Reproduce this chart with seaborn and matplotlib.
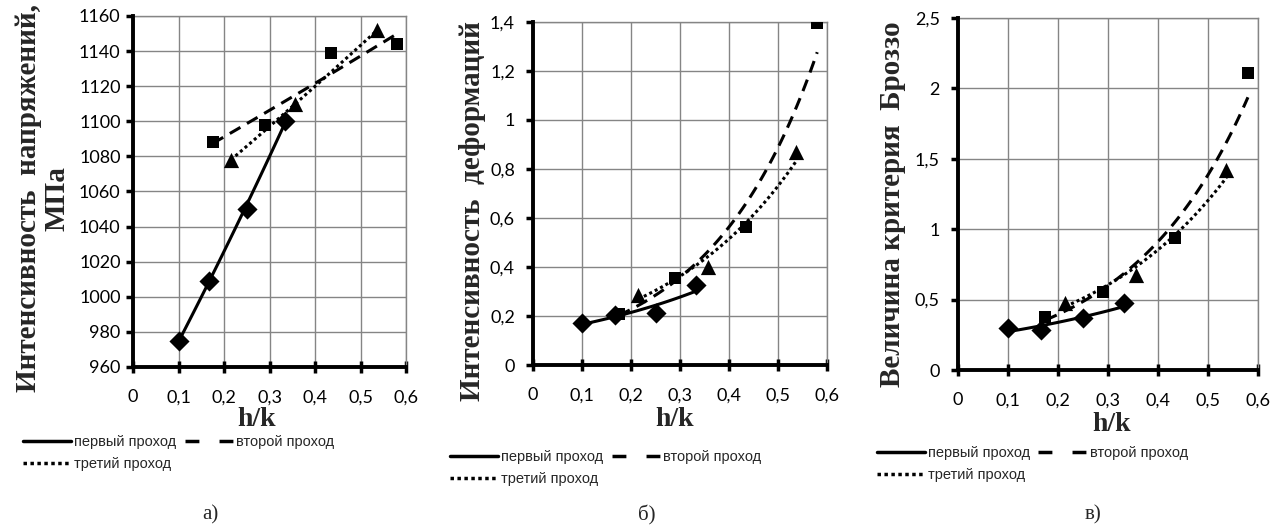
import seaborn as sns
import matplotlib
matplotlib.use("Agg")
import matplotlib.pyplot as plt
from matplotlib.lines import Line2D
from matplotlib.ticker import FuncFormatter
import numpy as np
import pandas as pd

sns.set_style("whitegrid")
plt.rcParams['font.family'] = ['Lato', 'DejaVu Sans']

# h/k values of the three passes
x_first = [0.1, 0.167, 0.25, 0.333]
x_second = [0.175, 0.29, 0.435, 0.58]
x_third = [0.215, 0.357, 0.537]

# а) stress intensity, MPa
stress_first = [975, 1009, 1050, 1100]
stress_second = [1088, 1098, 1139, 1144]
stress_third = [1078, 1110, 1152]

# б) strain intensity
strain_first = [0.17, 0.204, 0.213, 0.326]
strain_second = [0.208, 0.357, 0.564, 1.396]
strain_third = [0.285, 0.40, 0.87]

# в) Brozzo criterion
brozzo_first = [0.296, 0.284, 0.367, 0.474]
brozzo_second = [0.379, 0.557, 0.936, 2.11]
brozzo_third = [0.474, 0.675, 1.42]

pass_names = ['первый проход', 'второй проход', 'третий проход']
markers = ['D', 's', '^']
marker_sizes = [105, 85, 120]
styles = ['-', (0, (4, 2.5)), (0, (1, 1))]
legend_styles = ['-', (0, (4, 5.8)), (0, (1, 1))]

SERIF = ['Liberation Serif', 'DejaVu Serif']


def comma_fmt(v, pos):
    return f"{v:g}".replace('.', ',')


def exp_trend(x, y, n=100):
    # excel-like exponential trendline
    b, a = np.polyfit(x, np.log(y), 1)
    xs = np.linspace(min(x), max(x), n)
    return xs, np.exp(a + b * xs)


def draw_panel(ax, xs, ys, ylim, ystep, ylabel, ylab_pos, xlab_pos, ypad):
    for i, (x, y) in enumerate(zip(xs, ys)):
        tx, ty = exp_trend(x, y)
        sns.lineplot(x=tx, y=ty, ax=ax, color='black', lw=2.2,
                     linestyle=styles[i], sort=False, legend=False)
        data = pd.DataFrame({'x': x, 'y': y})
        sns.scatterplot(data=data, x='x', y='y', ax=ax, color='black',
                        marker=markers[i], s=marker_sizes[i],
                        edgecolor='black', linewidth=0, zorder=5, legend=False)
    ax.set_xlim(0, 0.6)
    ax.set_ylim(*ylim)
    ax.set_xticks(np.arange(0, 0.61, 0.1))
    ax.set_yticks(np.arange(ylim[0], ylim[1] + ystep / 2, ystep))
    ax.xaxis.set_major_formatter(FuncFormatter(comma_fmt))
    ax.yaxis.set_major_formatter(FuncFormatter(comma_fmt))
    ax.grid(True, color='#858585', lw=1.0)
    for side in ['top', 'right']:
        ax.spines[side].set_color('#858585')
        ax.spines[side].set_linewidth(1.0)
    for side in ['left', 'bottom']:
        ax.spines[side].set_color('black')
        ax.spines[side].set_linewidth(2.8)
        ax.spines[side].set_zorder(6)
    ax.tick_params(axis='y', direction='out', length=5, width=2.5,
                   colors='black', labelsize=13, pad=ypad, left=True)
    ax.tick_params(axis='x', direction='inout', length=8, width=2.5,
                   colors='black', labelsize=13, pad=12, bottom=True)
    ax.set_xlabel('h/k', family=SERIF, fontweight='bold', fontsize=20)
    ax.xaxis.set_label_coords(*xlab_pos)
    ax.set_ylabel(ylabel, family=SERIF, fontweight='bold', fontsize=21,
                  linespacing=1.05)
    ax.yaxis.label.set_va('center')
    ax.yaxis.set_label_coords(*ylab_pos)


fig = plt.figure(figsize=(12.84, 5.31), dpi=100)
ax1 = fig.add_axes([0.1036, 0.3089, 0.2126, 0.661])
ax2 = fig.add_axes([0.4151, 0.3126, 0.2290, 0.646])
ax3 = fig.add_axes([0.7461, 0.3032, 0.2336, 0.663])

xs = [x_first, x_second, x_third]
draw_panel(ax1, xs, [stress_first, stress_second, stress_third],
           (960, 1160), 20, 'Интенсивность  напряжений,\nМПа',
           (-0.33, 0.48), (0.454, -0.115), 4)
draw_panel(ax2, xs, [strain_first, strain_second, strain_third],
           (0, 1.4), 0.2, 'Интенсивность  деформаций',
           (-0.207, 0.45), (0.48, -0.122), 8)
draw_panel(ax3, xs, [brozzo_first, brozzo_second, brozzo_third],
           (0, 2.5), 0.5, 'Величина критерия  Броззо',
           (-0.22, 0.47), (0.513, -0.12), 8)

handles = [Line2D([], [], color='black', lw=2.5, linestyle=s) for s in legend_styles]
order = [0, 2, 1]
for lx, ly in [(0.012, 0.195), (0.345, 0.166), (0.677, 0.174)]:
    fig.legend([handles[i] for i in order], [pass_names[i] for i in order],
               loc='upper left', bbox_to_anchor=(lx, ly), ncol=2,
               frameon=False, borderpad=0, handlelength=3.3,
               handletextpad=0.2, columnspacing=0.6, labelspacing=0.55,
               prop={'family': ['Liberation Sans', 'DejaVu Sans'], 'size': 10.5})

for lbl, px in [('а)', 210), ('б)', 647), ('в)', 1093)]:
    fig.text(px / 1284, 1 - 515 / 531, lbl, ha='center', va='center',
             family=SERIF, fontsize=15)

fig.savefig('out.png', dpi=100)
